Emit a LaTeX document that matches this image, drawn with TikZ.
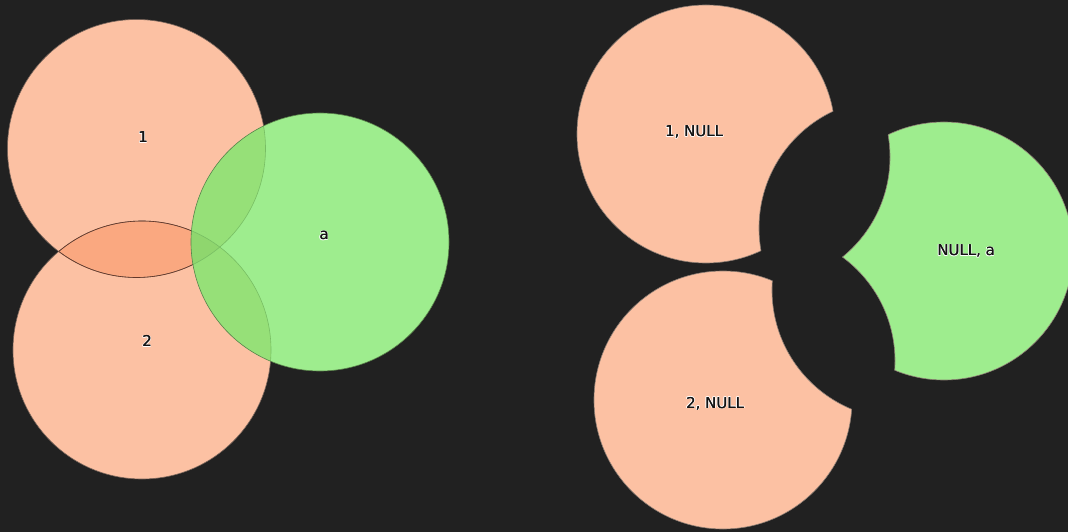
\documentclass[tikz,border=0pt]{standalone}
\usepackage{fontspec}
\setmainfont{DejaVu Sans}
\definecolor{bg}{RGB}{33,33,33}
\definecolor{peach}{RGB}{252,193,163}
\definecolor{lensc}{RGB}{250,168,128}
\definecolor{grn}{RGB}{158,237,142}
\definecolor{gov}{RGB}{150,224,120}
\definecolor{gov2}{RGB}{143,214,110}
\definecolor{pout}{RGB}{120,100,90}
\definecolor{lensline}{RGB}{100,55,40}
\definecolor{ginner}{RGB}{120,190,100}
\definecolor{aout}{RGB}{90,130,75}
\definecolor{rout}{RGB}{140,125,115}
\definecolor{txt}{RGB}{20,20,20}
\newcommand\Rad{129bp}
\newcommand\halotext[3]{%
  \foreach \dx/\dy in {0.9/0,-0.9/0,0/0.9,0/-0.9,0.7/0.7,-0.7/0.7,0.7/-0.7,-0.7/-0.7}
    \node[lbl, text=white, opacity=0.75] at ([shift={(\dx,\dy)}]#2) {#3};
  \node[lbl] at ([shift={(0.35,0)}]#2) {#3};
  \node[lbl] (#1) at (#2) {#3};}
\begin{document}
\begin{tikzpicture}[x=1bp,y=-1bp,
  lbl/.style={font=\fontsize{15}{18}\selectfont, text=txt, inner sep=0pt, anchor=base},
  thinline/.style={line width=0.6bp}]
\fill[bg] (0,0) rectangle (1068,532);
\useasboundingbox (0,0) rectangle (1068,532);
% centres
\coordinate (c1) at (136.5,148.5);
\coordinate (c2) at (142,350);
\coordinate (ca) at (320,242);
\coordinate (r1) at (706,134);
\coordinate (r1cut) at (888,228);
\coordinate (r2) at (723,400);
\coordinate (r2cut) at (901,290);
\coordinate (ra) at (944,251);
\coordinate (racuta) at (761,157);
\coordinate (racutb) at (766,361);
% ---------- left: overlapping circles ----------
\fill[peach] (c1) circle[radius=\Rad];
\fill[peach] (c2) circle[radius=\Rad];
\begin{scope}
  \clip (c1) circle[radius=\Rad];
  \fill[lensc] (c2) circle[radius=\Rad];
\end{scope}
\fill[grn] (ca) circle[radius=\Rad];
\begin{scope}
  \clip (ca) circle[radius=\Rad];
  \fill[gov] (c1) circle[radius=\Rad];
  \fill[gov] (c2) circle[radius=\Rad];
  \clip (c1) circle[radius=\Rad];
  \fill[gov2] (c2) circle[radius=\Rad];
\end{scope}
\begin{scope}[even odd rule]
  \clip (-100,-100) rectangle (1200,700) (ca) circle[radius=\Rad];
  \draw[thinline, pout] (c1) circle[radius=\Rad];
  \draw[thinline, pout] (c2) circle[radius=\Rad];
  \begin{scope}
    \clip (c2) circle[radius=\Rad];
    \draw[thinline, lensline] (c1) circle[radius=\Rad];
  \end{scope}
  \begin{scope}
    \clip (c1) circle[radius=\Rad];
    \draw[thinline, lensline] (c2) circle[radius=\Rad];
  \end{scope}
\end{scope}
\begin{scope}
  \clip (ca) circle[radius=\Rad];
  \draw[thinline, ginner] (c1) circle[radius=\Rad];
  \draw[thinline, ginner] (c2) circle[radius=\Rad];
\end{scope}
\draw[thinline, aout] (ca) circle[radius=\Rad];
% ---------- right: separated pieces ----------
\begin{scope}[even odd rule]
  \clip (-100,-100) rectangle (1200,700) (r1cut) circle[radius=\Rad];
  \fill[peach] (r1) circle[radius=\Rad];
  \draw[thinline, rout] (r1) circle[radius=\Rad];
\end{scope}
\begin{scope}
  \clip (r1) circle[radius=\Rad];
  \draw[thinline, rout] (r1cut) circle[radius=\Rad];
\end{scope}
\begin{scope}[even odd rule]
  \clip (-100,-100) rectangle (1200,700) (r2cut) circle[radius=\Rad];
  \fill[peach] (r2) circle[radius=\Rad];
  \draw[thinline, rout] (r2) circle[radius=\Rad];
\end{scope}
\begin{scope}
  \clip (r2) circle[radius=\Rad];
  \draw[thinline, rout] (r2cut) circle[radius=\Rad];
\end{scope}
\begin{scope}[even odd rule]
  \clip (-100,-100) rectangle (1200,700) (racuta) circle[radius=\Rad];
  \begin{scope}
    \clip (-100,-100) rectangle (1200,700) (racutb) circle[radius=\Rad];
    \fill[grn] (ra) circle[radius=\Rad];
    \draw[thinline, rout] (ra) circle[radius=\Rad];
  \end{scope}
\end{scope}
\begin{scope}[even odd rule]
  \clip (ra) circle[radius=\Rad];
  \clip (-100,-100) rectangle (1200,700) (racutb) circle[radius=\Rad];
  \draw[thinline, rout] (racuta) circle[radius=\Rad];
\end{scope}
\begin{scope}[even odd rule]
  \clip (ra) circle[radius=\Rad];
  \clip (-100,-100) rectangle (1200,700) (racuta) circle[radius=\Rad];
  \draw[thinline, rout] (racutb) circle[radius=\Rad];
\end{scope}
% ---------- labels ----------
\halotext{l1}{143,143}{1}
\halotext{l2}{147,347}{2}
\halotext{la}{324,240}{a}
\halotext{lr1}{694,137}{1, NULL}
\halotext{lr2}{715,408}{2, NULL}
\halotext{lra}{966,256}{NULL, a}
\end{tikzpicture}
\end{document}
